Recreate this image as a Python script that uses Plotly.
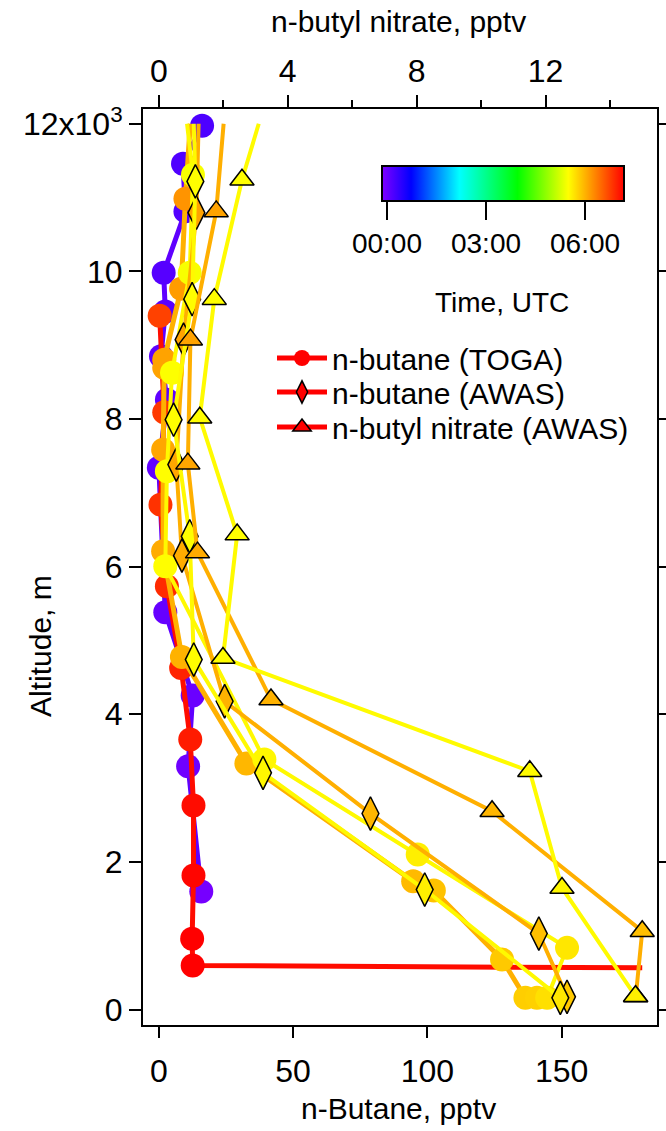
import plotly.graph_objects as go
from plotly.colors import sample_colorscale

# ---------------- data ----------------
# TOGA n-butane, purple profile (early flight)
toga_purple_nb = [16.1, 9.0, 9.9, 1.8, 2.4, 0.8, 3.0, 0.0, 2.4, 12.6, 10.9, 15.8]
toga_purple_alt = [11973, 11459, 10813, 9982, 9458, 8849, 8262, 7341, 5381, 4253, 3296, 1598]
toga_purple_t = [0.20, 0.18, 0.16, 0.14, 0.12, 0.10, 0.08, 0.06, 0.03, 0.0, -0.03, -0.08]

# TOGA n-butane, red profile
toga_red_nb = [0.3, 2.0, 0.6, 3.0, 8.3, 11.7, 12.9, 12.9, 12.4, 12.6, 180.0]
toga_red_alt = [9400, 8090, 6840, 5734, 4628, 3657, 2763, 1815, 958, 596, 564]
toga_red_t = [6.75, 6.80, 6.85, 6.90, 6.95, 7.00, 7.10, 7.15, 7.18, 7.18, 7.18]

# TOGA n-butane, orange profile
toga_orange_nb = [11.7, 9.9, 8.3, 2.0, 2.0, 1.6, 1.6, 8.6, 32.6, 94.7, 102.4, 127.8, 136.5, 140.8]
toga_orange_alt = [12000, 10985, 9766, 8804, 8696, 7585, 6208, 4777, 3332, 1738, 1612, 677, 158, 158]
toga_orange_t = [6.2, 6.2, 6.15, 6.1, 6.1, 6.08, 6.05, 6.0, 5.97, 5.95, 5.9, 5.85, 5.82, 5.8]

# TOGA n-butane, yellow profile
toga_yellow_nb = [10.5, 12.7, 11.5, 4.9, 3.0, 2.4, 39.3, 96.4, 152.0, 144.6]
toga_yellow_alt = [12000, 11310, 9982, 8627, 7291, 6004, 3386, 2099, 835, 158]
toga_yellow_t = [5.45, 5.45, 5.45, 5.48, 5.5, 5.5, 5.55, 5.6, 5.65, 5.7]

# AWAS n-butane, yellow profile
awas_yellow_nb = [13.0, 13.6, 12.4, 5.5, 11.5, 13.0, 38.8, 99.0, 149.5]
awas_yellow_alt = [12000, 11219, 9624, 7991, 6411, 4741, 3206, 1625, 158]
awas_yellow_t = [5.5, 5.5, 5.5, 5.5, 5.5, 5.5, 5.55, 5.6, 5.65]

# AWAS n-butane, orange profile
awas_orange_nb = [14.8, 14.0, 9.2, 6.5, 8.6, 24.5, 78.8, 141.5, 152.0]
awas_orange_alt = [12000, 10795, 9075, 7382, 6149, 4176, 2655, 1029, 172]
awas_orange_t = [6.1, 6.1, 6.1, 6.08, 6.05, 6.0, 5.98, 5.92, 5.85]

# AWAS n-butyl nitrate, yellow profile (top axis)
nitr_yellow_v = [3.10, 2.58, 1.72, 1.27, 2.43, 1.99, 11.51, 12.51, 14.79]
nitr_yellow_alt = [12000, 11242, 9624, 8018, 6434, 4763, 3228, 1647, 180]
nitr_yellow_t = [5.5, 5.5, 5.5, 5.5, 5.5, 5.5, 5.52, 5.55, 5.6]

# AWAS n-butyl nitrate, orange profile (top axis)
nitr_orange_v = [2.01, 1.78, 0.98, 0.90, 1.20, 3.48, 10.34, 15.0, 14.8]
nitr_orange_alt = [12000, 10813, 9075, 7395, 6190, 4199, 2686, 1061, 175]
nitr_orange_t = [6.1, 6.1, 6.1, 6.08, 6.05, 6.0, 5.98, 5.92, 5.85]

time_tickvals = [0, 3, 6]
time_ticktext = ["00:00", "03:00", "06:00"]
alt_tickvals = [0, 2000, 4000, 6000, 8000, 10000, 12000]
alt_ticktext = ["0", "2", "4", "6", "8", "10", "12x10<sup>3</sup>"]
nb_tickvals = [0, 50, 100, 150]
nitr_tickvals = [0, 4, 8, 12]
nitr_minor = [2, 6, 10, 14]
legend_names = ["n-butane (TOGA)", "n-butane (AWAS)", "n-butyl nitrate (AWAS)"]

# ---------------- styling ----------------
TMIN, TMAX = -0.15, 7.18
CSCALE = [[0.0, "#8000ff"], [0.12, "#0000ff"], [0.32, "#00ffff"],
          [0.56, "#00ff00"], [0.77, "#ffff00"], [1.0, "#ff0000"]]
FONT = "Liberation Sans, Arial, sans-serif"


def tcolor(t):
    p = (t - TMIN) / (TMAX - TMIN)
    p = min(max(p, 0.0), 1.0)
    return sample_colorscale(CSCALE, [p])[0]


def profile(x, alt, t, symbol, size, lw, xaxis="x", hide=(), outline=1.5, line_t=None):
    n = len(x)
    sizes = [0 if i in hide else size for i in range(n)]
    lws = [0 if i in hide else outline for i in range(n)]
    lt = line_t if line_t is not None else sum(t) / n
    return go.Scatter(
        x=x, y=alt, mode="lines+markers", xaxis=xaxis, yaxis="y",
        line=dict(color=tcolor(lt), width=lw),
        marker=dict(symbol=symbol, size=sizes, color=t, coloraxis="coloraxis",
                    line=dict(color="black", width=lws), opacity=1),
        showlegend=False, hoverinfo="skip",
    )


fig = go.Figure()
fig.add_trace(profile(toga_purple_nb, toga_purple_alt, toga_purple_t, "circle", 24, 5, outline=0))
fig.add_trace(profile(toga_red_nb, toga_red_alt, toga_red_t, "circle", 24, 5,
                      hide=(len(toga_red_nb) - 1,), outline=0, line_t=7.1))
fig.add_trace(profile(toga_orange_nb, toga_orange_alt, toga_orange_t, "circle", 24, 5, hide=(0,), outline=0))
fig.add_trace(profile(toga_yellow_nb, toga_yellow_alt, toga_yellow_t, "circle", 24, 4, hide=(0,), outline=0))
fig.add_trace(profile(awas_orange_nb, awas_orange_alt, awas_orange_t, "diamond-tall", 24, 4, hide=(0,)))
fig.add_trace(profile(awas_yellow_nb, awas_yellow_alt, awas_yellow_t, "diamond-tall", 24, 4, hide=(0,)))
fig.add_trace(profile(nitr_orange_v, nitr_orange_alt, nitr_orange_t, "triangle-up", 21, 4, xaxis="x2", hide=(0,)))
fig.add_trace(profile(nitr_yellow_v, nitr_yellow_alt, nitr_yellow_t, "triangle-up", 21, 4, xaxis="x2", hide=(0,)))

# legend entries (one legend box per entry so the row spacing can match)
legend_ids = ["legend", "legend2", "legend3"]
for name, sym, ol, lid in zip(legend_names, ["circle", "diamond-tall", "triangle-up"],
                              [0, 1.5, 1.5], legend_ids):
    fig.add_trace(go.Scatter(
        x=[None], y=[None], mode="lines+markers", name=name, legend=lid,
        line=dict(color="#ff0000", width=5),
        marker=dict(symbol=sym, size=16, color="#ff0000", line=dict(color="black", width=ol)),
    ))

axis_common = dict(showgrid=False, zeroline=False, showline=True, linecolor="black",
                   linewidth=2, ticks="outside", tickcolor="black", tickwidth=2,
                   tickfont=dict(family=FONT, size=32, color="black"))

# plot-area pixel geometry helpers
PL, PR, PT, PB = 143, 657, 109, 1025
W, H = 666, 1131


def px_x(x):
    return (x - PL) / (PR - PL)


def px_y(y):
    return (PB - y) / (PB - PT)


legend_style = dict(xanchor="left", yanchor="middle", itemwidth=50,
                    font=dict(family=FONT, size=30, color="black"),
                    bgcolor="rgba(0,0,0,0)", borderwidth=0)

fig.update_layout(
    width=W, height=H,
    margin=dict(l=PL, r=W - PR, t=PT, b=H - PB, autoexpand=False),
    paper_bgcolor="white", plot_bgcolor="white",
    font=dict(family=FONT, size=30, color="black"),
    xaxis=dict(range=[-5.9, 185.5], tickvals=nb_tickvals, ticklen=11,
               ticklabelstandoff=6, **axis_common),
    xaxis2=dict(range=[-5.9 / 12, 185.5 / 12], overlaying="x", side="top",
                tickvals=nitr_tickvals, ticklen=12,
                minor=dict(tickvals=nitr_minor, ticklen=7, tickwidth=2, ticks="outside", tickcolor="black"),
                **axis_common),
    yaxis=dict(range=[-210, 12200], tickvals=alt_tickvals, ticktext=alt_ticktext,
               ticklen=12, mirror="ticks", **axis_common),
    coloraxis=dict(
        colorscale=CSCALE, cmin=TMIN, cmax=TMAX,
        colorbar=dict(
            orientation="h", x=px_x(503), xanchor="center", y=px_y(166), yanchor="top",
            len=242 / (PR - PL), lenmode="fraction", thickness=35, thicknessmode="pixels",
            outlinewidth=2, outlinecolor="black", xpad=0, ypad=0,
            tickvals=time_tickvals, ticktext=time_ticktext,
            ticks="outside", ticklen=18, tickwidth=2, tickcolor="black",
            tickfont=dict(family=FONT, size=28, color="black"),
        ),
    ),
    legend=dict(x=px_x(272), y=px_y(358), **legend_style),
    legend2=dict(x=px_x(272), y=px_y(392), **legend_style),
    legend3=dict(x=px_x(272), y=px_y(427), **legend_style),
    annotations=[
        dict(text="n-butyl nitrate, pptv", xref="paper", yref="paper", x=px_x(398), y=px_y(21),
             xanchor="center", yanchor="middle", showarrow=False, font=dict(family=FONT, size=30)),
        dict(text="n-Butane, pptv", xref="paper", yref="paper", x=px_x(398), y=px_y(1108),
             xanchor="center", yanchor="middle", showarrow=False, font=dict(family=FONT, size=30)),
        dict(text="Altitude, m", xref="paper", yref="paper", x=px_x(40), y=px_y(646),
             xanchor="center", yanchor="middle", textangle=-90, showarrow=False,
             font=dict(family=FONT, size=30)),
        dict(text="Time, UTC", xref="paper", yref="paper", x=px_x(502), y=px_y(302),
             xanchor="center", yanchor="middle", showarrow=False, font=dict(family=FONT, size=28)),
    ],
)

fig.write_html("out.html",
               config={"displayModeBar": False},
               post_script="document.body.style.margin='0px';document.body.style.overflow='hidden';")
